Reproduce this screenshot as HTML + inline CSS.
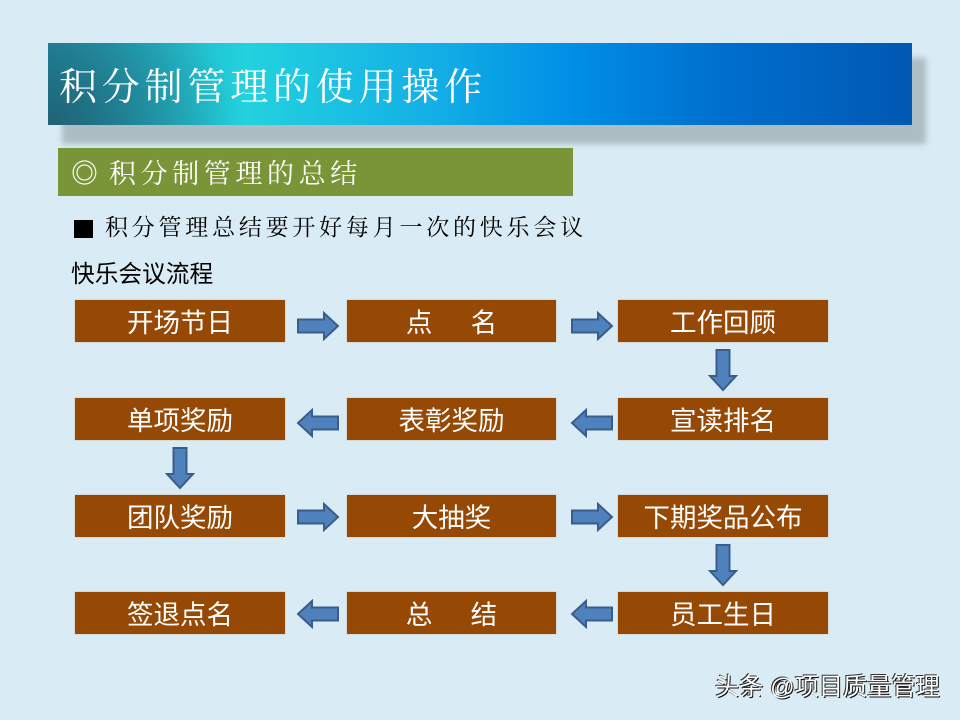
<!DOCTYPE html>
<html lang="zh">
<head>
<meta charset="utf-8">
<style>
html,body{margin:0;padding:0}
body{width:960px;height:720px;position:relative;overflow:hidden;background:#d9ebf4;font-family:"Liberation Sans","Noto Sans CJK SC",sans-serif}
.a{position:absolute;white-space:nowrap}
.serif{font-family:"Liberation Serif","Noto Serif CJK SC",serif}
.shadow{left:62px;top:58px;width:864px;height:86px;background:#adbdc3;filter:blur(3px)}
.title{left:48px;top:43px;width:864px;height:82px;background:radial-gradient(ellipse 190px 150px at 0% 100%,rgba(31,90,110,.85),rgba(31,90,110,0) 100%),linear-gradient(90deg,#2291a6 0%,#22d2de 23%,#14b0e6 44%,#0090e6 60%,#006fce 78%,#0058b2 100%)}
.title span{position:absolute;left:11px;top:21px;font-size:38px;line-height:48px;letter-spacing:4.8px;color:#fff}
.sub{left:58px;top:148px;width:515px;height:48px;background:#7a9438}
.sub span{position:absolute;top:9px;font-size:27px;line-height:34px;color:#fff}
.b{position:absolute;height:42px;width:210px;background:#964805;color:#fff;font-size:26.5px;line-height:46px;text-align:center;box-shadow:0 0 1px #c09060}
.w{word-spacing:4.5px}
.c1{left:75px}.c2{left:347px;width:209px}.c3{left:618px}
.r1{top:300px}.r2{top:398px}.r3{top:495px}.r4{top:592px}
svg{position:absolute;left:0;top:0}
</style>
</head>
<body>
<div class="a shadow"></div>
<div class="a title serif"><span>积分制管理的使用操作</span></div>
<div class="a sub serif"><span style="left:13px">◎</span><span style="left:51px;letter-spacing:4.6px">积分制管理的总结</span></div>
<div class="a" style="left:74px;top:220px;width:19px;height:18px;background:#000"></div>
<div class="a serif" style="left:105px;top:213px;font-size:23px;line-height:30px;letter-spacing:3.77px;color:#000">积分管理总结要开好每月一次的快乐会议</div>
<div class="a" style="left:71px;top:260px;font-size:23.7px;line-height:31px;color:#000">快乐会议流程</div>

<div class="b c1 r1">开场节日</div>
<div class="b c2 r1 w">点　 名</div>
<div class="b c3 r1">工作回顾</div>
<div class="b c1 r2">单项奖励</div>
<div class="b c2 r2">表彰奖励</div>
<div class="b c3 r2">宣读排名</div>
<div class="b c1 r3">团队奖励</div>
<div class="b c2 r3">大抽奖</div>
<div class="b c3 r3">下期奖品公布</div>
<div class="b c1 r4">签退点名</div>
<div class="b c2 r4 w">总　 结</div>
<div class="b c3 r4">员工生日</div>

<svg width="960" height="720" viewBox="0 0 960 720">
<defs>
<path id="ar" d="M0,-6.5 H26 V-13 L40,0 L26,13 V6.5 H0 Z" fill="#4f81bd" stroke="#385d8a" stroke-width="2"/>
</defs>
<use href="#ar" transform="translate(298,326)"/>
<use href="#ar" transform="translate(572,326)"/>
<use href="#ar" transform="translate(723,350) rotate(90)"/>
<use href="#ar" transform="translate(338,423) rotate(180)"/>
<use href="#ar" transform="translate(612,423) rotate(180)"/>
<use href="#ar" transform="translate(180,448) rotate(90)"/>
<use href="#ar" transform="translate(298,517)"/>
<use href="#ar" transform="translate(572,517)"/>
<use href="#ar" transform="translate(723,545) rotate(90)"/>
<use href="#ar" transform="translate(338,614) rotate(180)"/>
<use href="#ar" transform="translate(612,614) rotate(180)"/>
</svg>

<div class="a" style="left:715px;top:672px;font-size:24.2px;line-height:31px;color:#fff;text-shadow:-1px -1px 0 #333,1px 1px 0 #111">头条 @项目质量管理</div>
</body>
</html>
